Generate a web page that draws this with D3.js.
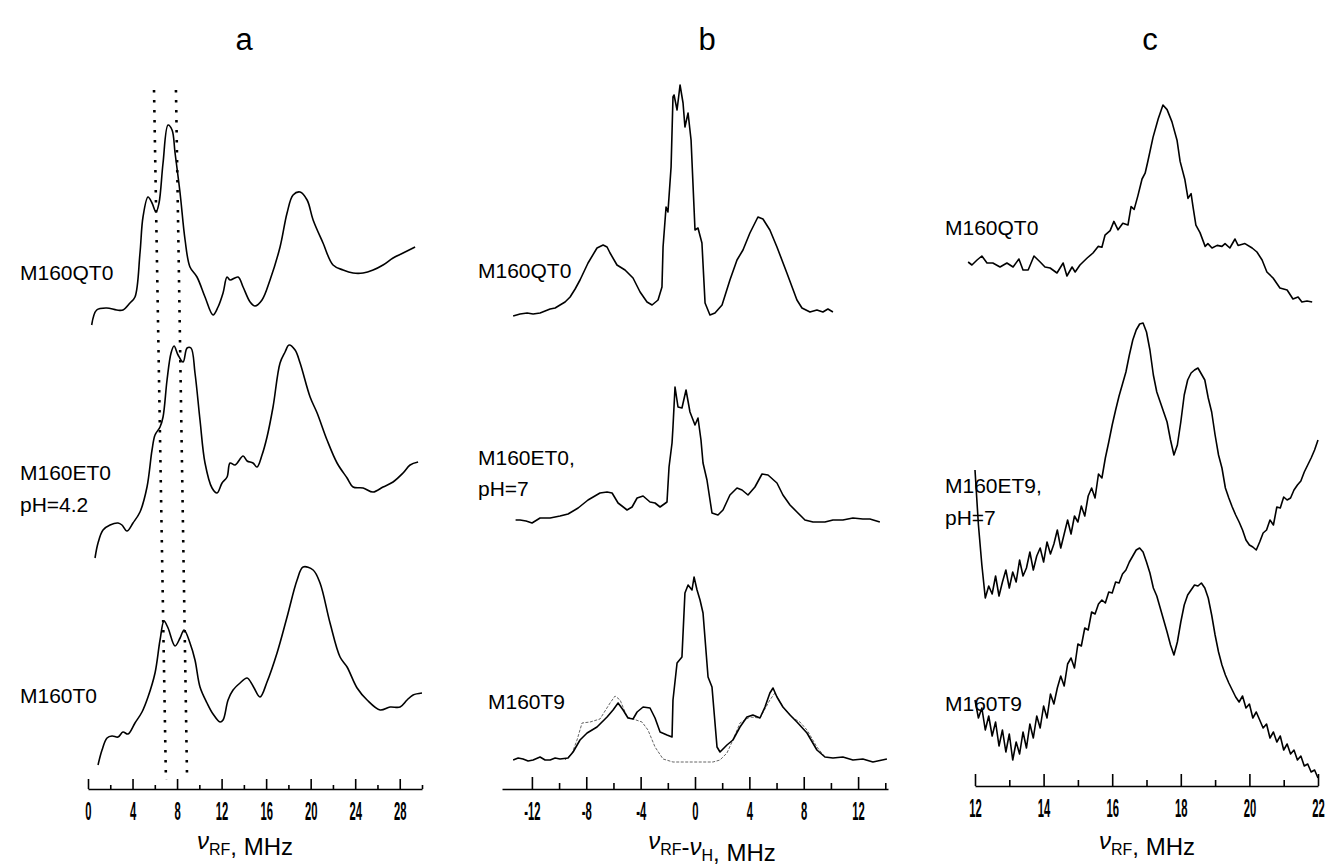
<!DOCTYPE html>
<html>
<head>
<meta charset="utf-8">
<script src="https://cdnjs.cloudflare.com/ajax/libs/d3/7.8.5/d3.min.js"></script>
<style>
  body { margin: 0; background: #fff; }
  .lbl { font-family: "Liberation Sans", Arial, sans-serif; font-size: 21px; fill: #000; }
  .ttl { font-family: "Liberation Sans", Arial, sans-serif; font-size: 24px; fill: #000; }
  .letter { font-family: "Liberation Sans", Arial, sans-serif; font-size: 31px; fill: #000; }
</style>
</head>
<body>
<div id="chart"></div>
<script>
// ---- data: [frequency (MHz), intensity (a.u.)] ----
// panel a, nu_RF
var aQT0 = [[0.33,2.5],[0.78,10],[1.68,11],[2.58,10],[3.14,10],[3.77,13.5],[4.22,16.5],[4.67,38.5],[4.94,56.5],[5.39,66.5],[5.75,63.5],[6.11,59],[6.38,63.5],[6.74,83.5],[7.19,102.5],[7.55,100],[7.82,88.5],[8.27,68.5],[8.72,45],[9.16,31.5],[9.79,26.5],[10.51,16.5],[11.23,7.5],[11.68,11.5],[12.13,18.5],[12.49,26.5],[12.76,25],[13.48,26.5],[13.93,21.5],[14.56,14],[15.0,12],[15.63,15],[16.35,25],[17.25,41.5],[17.88,58.5],[18.42,67.5],[19.05,69],[19.68,65],[20.22,55],[21.11,43.5],[22.01,32.5],[22.91,30],[23.81,28.5],[24.71,28.5],[25.61,30],[26.5,32.5],[27.4,36],[28.3,38.5],[29.38,41.5]];
var aET0 = [[0.63,1],[0.9,8.5],[1.35,15],[1.98,17.5],[2.7,18.5],[3.05,17.5],[3.5,14.5],[4.04,18.5],[4.67,24],[5.3,36.5],[5.75,55],[6.02,62.5],[6.47,66.5],[6.74,71.5],[7.1,90],[7.46,103.5],[7.73,107],[8.09,102.5],[8.54,99],[8.9,106],[9.25,106],[9.61,93.5],[10.06,70],[10.51,48.5],[11.14,36],[11.59,33.5],[12.04,38.5],[12.49,41.5],[12.76,48.5],[13.21,47.5],[13.93,52],[14.29,49.5],[14.82,48.5],[15.18,46.5],[15.63,52.5],[16.08,61.5],[16.62,76.5],[17.25,98.5],[17.7,104],[18.06,107.5],[18.6,105],[19.05,98.5],[19.95,81.5],[20.58,73.5],[21.47,60],[22.37,48.5],[23.27,41],[23.81,36.5],[24.71,36],[25.61,34],[26.5,36.5],[27.4,39],[28.3,43.5],[28.93,47.5],[29.65,49]];
var aT0 = [[0.9,2.5],[1.26,10],[1.71,16],[2.16,17],[2.7,16.5],[3.14,19],[3.59,18],[4.22,23.5],[4.85,29],[5.39,36.5],[6.02,48.5],[6.47,65],[6.83,74.5],[7.19,71],[7.82,62],[8.27,66],[8.63,70],[9.16,63.5],[9.61,55],[10.06,41.5],[10.69,33.5],[11.23,28],[11.86,24],[12.13,25],[12.58,35],[13.03,40],[13.66,43.5],[14.29,46],[14.82,42],[15.45,36.5],[16.08,44],[16.98,58.5],[17.88,76.5],[18.78,95],[19.32,101.5],[20.22,100],[20.84,93.5],[21.74,73.5],[22.64,56.5],[23.27,51.5],[24.17,41],[25.07,35],[26.24,30],[27.13,31.5],[28.03,31.5],[28.66,35],[29.2,37.5],[30.0,38.5]];
// dotted guide lines in panel a: [freq at top, freq at bottom]
var aGuides = [[5.93, 7.0], [7.9, 8.9]];

// panel b, nu_RF - nu_H
var bQT0 = [[-13.38,1],[-12.87,2],[-12.35,2.5],[-11.91,2],[-11.4,2.5],[-11.03,3.5],[-10.66,4.5],[-10.29,5],[-9.93,6.5],[-9.56,8],[-9.19,10.5],[-8.82,14.5],[-8.46,19],[-7.87,27.5],[-7.21,35],[-6.76,36.5],[-6.47,35.5],[-6.25,32.5],[-5.74,26.5],[-5.15,24],[-4.56,20],[-4.04,13],[-3.53,8],[-3.16,6.5],[-2.72,9],[-2.43,15.5],[-2.35,35.5],[-2.13,55.5],[-1.99,53],[-1.76,75.5],[-1.62,110.5],[-1.54,111.5],[-1.32,104],[-1.1,116.5],[-0.88,107.5],[-0.74,95.5],[-0.51,102.5],[-0.29,89],[0,44],[0.22,45],[0.51,37.5],[0.74,7.5],[1.1,1.5],[1.47,2.5],[1.99,6.5],[2.57,19],[3.09,29],[3.53,34],[4.04,42.5],[4.63,50.5],[5.0,49.5],[5.51,44],[6.03,35.5],[6.76,22.5],[7.5,9],[7.87,5],[8.46,3],[8.97,4],[9.41,3],[9.78,4.5],[10.15,3]];
var bET0 = [[-13.2,2.5],[-12.87,2.5],[-12.43,2],[-11.99,1],[-11.4,3.5],[-10.66,3.5],[-9.93,4.5],[-9.34,5.5],[-8.6,8.5],[-7.87,12.5],[-6.99,16],[-6.47,16.5],[-6.1,16],[-5.66,11],[-5.0,7.5],[-4.63,9],[-4.26,13.5],[-3.82,14.5],[-3.31,11.5],[-2.94,11],[-2.57,9],[-2.06,11.5],[-1.91,29],[-1.69,41],[-1.62,49],[-1.47,69],[-1.25,59],[-0.96,58.5],[-0.66,67.5],[-0.37,56.5],[0,50],[0.22,53.5],[0.44,42.5],[0.59,31],[0.88,22.5],[1.25,6],[1.69,5],[2.06,7.5],[2.57,15],[3.09,18.5],[3.46,17.5],[3.9,15],[4.41,19],[4.93,25.5],[5.37,25],[6.03,21],[6.47,15],[6.99,10],[7.5,6.5],[8.09,2.5],[8.68,1.5],[9.56,1.5],[10.15,2.5],[10.88,2.5],[11.62,3.5],[12.35,3],[12.87,3],[13.6,1.5]];
var bT9 = [[-13.38,1],[-13.01,2],[-12.65,1.5],[-12.28,0.5],[-11.91,1],[-11.4,2.5],[-11.03,1],[-10.66,1],[-10.29,2],[-9.93,1.5],[-9.34,2],[-8.97,5],[-8.46,11],[-7.94,14.5],[-7.21,17.5],[-6.47,22.5],[-6.03,26],[-5.66,29.5],[-5.29,26],[-4.93,22],[-4.56,21.5],[-4.26,25],[-3.82,27.5],[-3.31,27],[-2.94,22],[-2.57,15],[-2.06,13.5],[-1.69,12.5],[-1.62,31],[-1.32,49.5],[-0.96,52.5],[-0.74,84.5],[-0.51,88.5],[-0.22,86],[-0.07,92.5],[0.15,86],[0.37,81],[0.59,74.5],[0.96,42.5],[1.25,37.5],[1.62,7.5],[1.84,5],[2.35,8.5],[2.79,11],[3.31,17.5],[3.82,22.5],[4.26,23.5],[4.78,22],[5.15,27.5],[5.51,34.5],[5.74,37],[6.03,32.5],[6.47,27.5],[6.99,23.5],[7.5,20],[8.24,14.5],[8.97,6],[9.56,2.5],[10.15,2],[10.88,2.5],[11.62,1],[12.35,1.5],[13.09,0],[14.12,1.5]];
var bT9fit = [[-9.56,1],[-9.04,4.5],[-8.68,11],[-8.31,19.5],[-7.72,20],[-6.99,21.5],[-6.25,29.5],[-5.88,33],[-5.51,31],[-5.0,22.5],[-4.56,21.5],[-3.9,20],[-3.46,16],[-2.94,7.5],[-2.35,1.5],[-1.62,0],[0.37,0],[1.32,0],[1.84,1],[2.35,4.5],[2.79,11],[3.31,19.5],[4.04,22.5],[4.78,22],[5.51,31],[5.88,34.5],[6.47,27.5],[7.21,22],[7.72,20],[8.24,16],[8.97,7.5],[9.56,2.5]];

// panel c, nu_RF
var cQT0 = [[11.8,21.5],[11.91,20],[12.06,22.5],[12.2,24.5],[12.35,21],[12.52,21],[12.73,19],[12.93,21],[13.11,19],[13.28,23],[13.4,17.5],[13.55,17.5],[13.72,24.5],[13.9,21.5],[14.04,19],[14.19,18.5],[14.39,16],[14.57,21],[14.68,14.5],[14.83,19],[14.92,16.5],[15.06,20],[15.27,23.5],[15.44,26],[15.59,29.3],[15.7,28.9],[15.79,34.9],[15.94,37.2],[16.05,41.8],[16.17,37.6],[16.31,40.9],[16.46,40],[16.55,49.2],[16.64,47.8],[16.75,54.7],[16.87,63],[16.96,65.9],[17.04,71.9],[17.19,83.8],[17.34,93],[17.48,100],[17.6,97.7],[17.74,91.7],[17.89,82.4],[17.98,71.8],[18.12,62.6],[18.21,53.3],[18.3,55.7],[18.36,48.7],[18.44,39.9],[18.56,36.2],[18.71,29.3],[18.79,30.7],[18.91,28.5],[19.06,29.8],[19.2,29.3],[19.29,30.7],[19.43,28.5],[19.58,33],[19.67,29.8],[19.87,30.7],[20.08,28.5],[20.22,26.5],[20.37,22.5],[20.51,16.5],[20.69,13.5],[20.89,8.5],[21.1,7.5],[21.27,3],[21.42,4],[21.53,1.5],[21.68,2],[21.83,1.5]];
var cFreq = [12.0,12.1,12.2,12.3,12.4,12.5,12.6,12.7,12.8,12.9,13.0,13.1,13.2,13.3,13.4,13.5,13.6,13.7,13.8,13.9,14.0,14.1,14.2,14.3,14.4,14.5,14.6,14.7,14.8,14.9,15.0,15.1,15.2,15.3,15.4,15.5,15.6,15.7,15.8,15.9,16.0,16.1,16.2,16.3,16.4,16.5,16.6,16.7,16.8,16.9,17.0,17.1,17.2,17.3,17.4,17.5,17.6,17.7,17.8,17.9,18.0,18.1,18.2,18.3,18.4,18.5,18.6,18.7,18.8,18.9,19.0,19.1,19.2,19.3,19.4,19.5,19.6,19.7,19.8,19.9,20.0,20.1,20.2,20.3,20.4,20.5,20.6,20.7,20.8,20.9,21.0,21.1,21.2,21.3,21.4,21.5,21.6,21.7,21.8,21.9,22.0];
var cET9 = [70,42.5,22.5,6,12,8,17,7,14,20,11,19,14,25,17,21,29,20,27,31,24,34,28,33,40,31,38,45,38,47,44,52,47,57,61,56,68,66,76,84,92.5,100,107,113,119,127.5,135,140,143,143.5,139,130,117.5,109,104,99,94,85,77.5,82.5,94,107.5,115,118.5,120,121,118,115,106,99,87.5,77.5,71,61,56,51.5,47.5,44,40,35,32.5,31.5,30,34,38.5,40,45,42.5,51.5,51,56.5,55,56,60,62.5,64.5,69,72.5,76,80,85];
var cT9 = [45,36,41,30,37,27,34,22,30,19,28,15,24,18,29,21,33,26,37,31,42,36,48,43,51,57,52,63,66,61,73,72,81,80,89,88,93,95,93.5,99,98.5,104,103.5,108,110,114,117,120,121,119,114,108.5,101,97,91,85,79,72.5,67.5,74,84,92.5,97.5,100,102.5,102,103.5,101,96,87.5,77.5,69,62.5,57.5,53.5,50,46.5,44,47,41,43,36,39,35,31,33,26,29,24,27,20,23,18,20,15,17,12,13,9,10,6];

// tick values and text
var aMajor = [0,4,8,12,16,20,24,28], aMinor = [2,6,10,14,18,22,26,30];
var bMajor = [-12,-8,-4,0,4,8,12], bMinor = [-10,-6,-2,2,6,10,14];
var cMajor = [12,14,16,18,20,22], cMinor = [13,15,17,19,21];
var panelLetters = ["a", "b", "c"];

// ---- drawing ----
var W = 1329, H = 865;
var svg = d3.select("#chart").append("svg")
    .attr("width", W)
    .attr("height", H);

var aX = d3.scaleLinear().domain([0, 30]).range([88, 422]);
var bX = d3.scaleLinear().domain([-14.2, 14.2]).range([502, 888]);
var cX = d3.scaleLinear().domain([12, 22]).range([975, 1318]);

// one intensity scale per trace: same gain, different offset
function yAt(y0) {
  return d3.scaleLinear().domain([0, 100]).range([y0, y0 - 200]);
}

function trace(x, y0, data, curve) {
  var y = yAt(y0);
  var line = d3.line()
    .curve(curve || d3.curveLinear)
    .x(function(d) { return x(d[0]); })
    .y(function(d) { return y(d[1]); });
  return svg.append("path")
    .datum(data)
    .attr("d", line)
    .attr("fill", "none")
    .attr("stroke", "#000")
    .attr("stroke-width", 1.6)
    .attr("stroke-linejoin", "round");
}

// same, for a spectrum stored as separate x and y lists
function traceXY(x, y0, xs, ys) {
  return trace(x, y0, xs.map(function(f, i) { return [f, ys[i]]; }));
}

// axis: major ticks with labels, minor ticks without
function axis(x, yPos, majors, minors, majorLen, minorLen) {
  var g = svg.append("g").attr("transform", "translate(0," + yPos + ")");
  g.append("g")
    .call(d3.axisBottom(x).tickValues(minors).tickSize(-minorLen).tickSizeOuter(0).tickFormat(""))
    .call(function(s) { s.select(".domain").remove(); });
  var maj = g.append("g")
    .call(d3.axisBottom(x).tickValues(majors).tickSize(-majorLen).tickSizeOuter(0).tickPadding(13)
      .tickFormat(function(d) { return d; }));
  maj.select(".domain").attr("stroke-width", 1.6);
  g.selectAll(".tick line").attr("stroke-width", 1.6);
  maj.selectAll("text")
    .attr("font-family", "'Liberation Sans', Arial, sans-serif")
    .attr("font-weight", "bold")
    .attr("font-size", 25)
    .attr("fill", "#000")
    .attr("transform", "scale(0.45,1)");
}

function axisTitle(cx, y, parts) {
  var t = svg.append("text").attr("class", "ttl")
    .attr("x", cx).attr("y", y).attr("text-anchor", "middle");
  parts.forEach(function(p) {
    if (p.sub) {
      t.append("tspan").attr("dy", 6).attr("font-size", 16).text(p.sub);
      t.append("tspan").attr("dy", -6).text("");
    } else if (p.nu) {
      t.append("tspan").attr("font-style", "italic").text(p.nu);
    } else {
      t.append("tspan").text(p.txt);
    }
  });
}

function label(x, y, txt) {
  svg.append("text").attr("class", "lbl").attr("x", x).attr("y", y).text(txt);
}

// panel a (smooth recorder traces)
var smooth = d3.curveCatmullRom.alpha(0.5);
trace(aX, 330, aQT0, smooth);
trace(aX, 560, aET0, smooth);
trace(aX, 770, aT0, smooth);
aGuides.forEach(function(g) {
  svg.append("line")
    .attr("x1", aX(g[0])).attr("y1", 90)
    .attr("x2", aX(g[1])).attr("y2", 780)
    .attr("stroke", "#000")
    .attr("stroke-width", 2.6)
    .attr("stroke-dasharray", "2.6,7.4");
});
axis(aX, 789, aMajor, aMinor, 10, 4);
label(20, 280, "M160QT0");
label(20, 480, "M160ET0");
label(20, 512, "pH=4.2");
label(20, 703, "M160T0");
axisTitle(245, 849, [{nu: "\u03BD"}, {sub: "RF"}, {txt: ", MHz"}]);

// panel b
trace(bX, 318, bQT0);
trace(bX, 525, bET0);
trace(bX, 762, bT9fit)
  .attr("stroke", "#666")
  .attr("stroke-width", 1)
  .attr("stroke-dasharray", "3,1.5");
trace(bX, 762, bT9);
axis(bX, 789, bMajor, bMinor, 12, 6);
label(478, 278, "M160QT0");
label(478, 465, "M160ET0,");
label(478, 496, "pH=7");
label(488, 709, "M160T9");
axisTitle(712, 849, [{nu: "\u03BD"}, {sub: "RF"}, {txt: "-"}, {nu: "\u03BD"}, {sub: "H"}, {txt: ", MHz"}]);

// panel c
trace(cX, 305, cQT0);
traceXY(cX, 610, cFreq, cET9);
traceXY(cX, 790, cFreq, cT9);
axis(cX, 786, cMajor, cMinor, 12, 6);
label(945, 235, "M160QT0");
label(945, 493, "M160ET9,");
label(945, 525, "pH=7");
label(945, 711, "M160T9");
axisTitle(1147, 849, [{nu: "\u03BD"}, {sub: "RF"}, {txt: ", MHz"}]);

// panel letters
[244, 707, 1150].forEach(function(x, i) {
  svg.append("text").attr("class", "letter")
    .attr("x", x).attr("y", 50).attr("text-anchor", "middle")
    .text(panelLetters[i]);
});
</script>
</body>
</html>
